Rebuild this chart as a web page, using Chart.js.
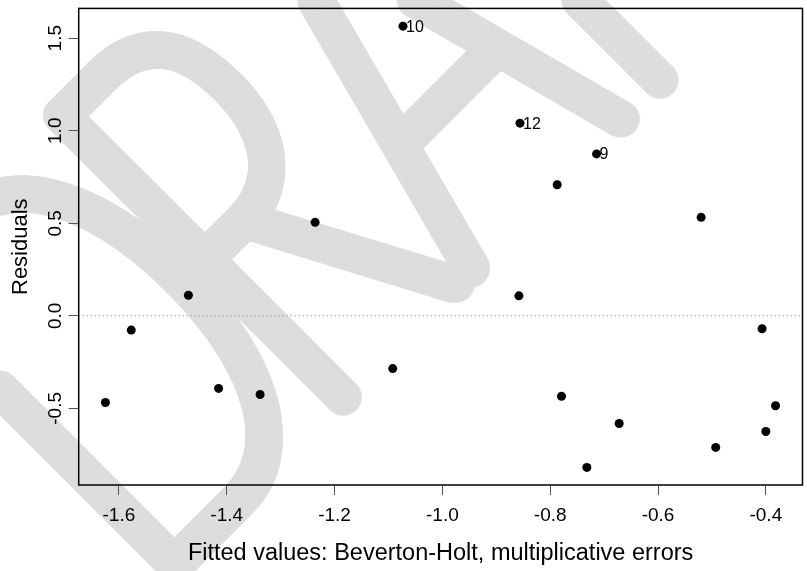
<!DOCTYPE html>
<html>
<head>
<meta charset="utf-8">
<title>Residuals vs fitted</title>
<script src="https://cdn.jsdelivr.net/npm/chart.js@4.4.1/dist/chart.umd.min.js"></script>
<style>
  html, body { margin: 0; padding: 0; background: #fff; }
  canvas { display: block; }
</style>
</head>
<body>
<canvas id="resChart" width="807" height="571"></canvas>
<script>
// values
var fittedVals = [-1.625, -1.577, -1.471, -1.415, -1.338, -1.236, -1.092, -1.073, -0.856, -0.858,
                  -0.787, -0.779, -0.732, -0.714, -0.672, -0.520, -0.493, -0.407, -0.400, -0.382];
var residVals = [-0.468, -0.077, 0.111, -0.392, -0.425, 0.505, -0.285, 1.565, 1.041, 0.108,
                 0.708, -0.435, -0.819, 0.875, -0.582, 0.532, -0.711, -0.070, -0.625, -0.486];
var pointLabels = ['', '', '', '', '', '', '', '10', '12', '',
                   '', '', '', '9', '', '', '', '', '', ''];
var xTicks = [-1.6, -1.4, -1.2, -1.0, -0.8, -0.6, -0.4];
var yTicks = [-0.5, 0.0, 0.5, 1.0, 1.5];
var xLimits = [-1.6745, -0.332];
var yLimits = [-0.914, 1.661];
var xTitle = 'Fitted values: Beverton-Holt, multiplicative errors';
var yTitle = 'Residuals';
var stampText = 'DRAFT';

var fontFamily = '"Liberation Sans", Arial, Helvetica, sans-serif';

var points = [];
for (var i = 0; i < fittedVals.length; i++) {
    points.push({ x: fittedVals[i], y: residVals[i] });
}

// grey watermark behind everything: hairline text, then thickened
// by stamping it round a small circle so the strokes get round ends
var stampPlugin = {
    id: 'stamp',
    beforeDraw: function (chart) {
        var ctx = chart.ctx;
        var off = document.createElement('canvas');
        off.width = chart.width;
        off.height = chart.height;
        var octx = off.getContext('2d');
        var size = 575;
        octx.translate(371.5, 371.5);
        octx.rotate(-Math.PI / 4);
        octx.font = '100 ' + size + 'px Lato, Roboto, "Liberation Sans", sans-serif';
        var raW = octx.measureText('RA').width;
        var dW = octx.measureText('D').width;
        var sx = 448 / raW;
        var rStart = -46 - 0.1 * size * sx;
        var dStart = rStart - dW * sx + 40;
        octx.scale(sx, 1);
        octx.fillStyle = '#dddddd';
        octx.textAlign = 'left';
        octx.textBaseline = 'alphabetic';
        octx.fillText(stampText.charAt(0), dStart / sx, 0);
        octx.fillText(stampText.slice(1), rStart / sx, 0);

        var rings = [16, 11, 6];
        for (var r = 0; r < rings.length; r++) {
            var steps = Math.ceil(2 * Math.PI * rings[r] / 1.5);
            for (var k = 0; k < steps; k++) {
                var a = 2 * Math.PI * k / steps;
                ctx.drawImage(off, rings[r] * Math.cos(a), rings[r] * Math.sin(a));
            }
        }
        ctx.drawImage(off, 0, 0);
    }
};

// box round the plot and the dotted zero line
var framePlugin = {
    id: 'frame',
    beforeDatasetsDraw: function (chart) {
        var ctx = chart.ctx;
        var a = chart.chartArea;
        var y0 = chart.scales.y.getPixelForValue(0);
        ctx.save();
        ctx.strokeStyle = '#777';
        ctx.lineWidth = 1;
        ctx.setLineDash([1, 3]);
        ctx.beginPath();
        ctx.moveTo(a.left, y0);
        ctx.lineTo(a.right, y0);
        ctx.stroke();
        ctx.setLineDash([]);
        ctx.strokeStyle = '#000';
        ctx.lineWidth = 1.5;
        ctx.strokeRect(a.left, a.top, a.right - a.left, a.bottom - a.top);
        ctx.restore();
    }
};

// point numbers next to the flagged residuals
var labelPlugin = {
    id: 'ptLabels',
    afterDatasetsDraw: function (chart) {
        var ctx = chart.ctx;
        var meta = chart.getDatasetMeta(0);
        ctx.save();
        ctx.fillStyle = '#000';
        ctx.font = '16px ' + fontFamily;
        ctx.textAlign = 'left';
        ctx.textBaseline = 'middle';
        for (var i = 0; i < meta.data.length; i++) {
            if (!pointLabels[i]) continue;
            var el = meta.data[i];
            ctx.fillText(pointLabels[i], el.x + 3, el.y + 1);
        }
        ctx.restore();
    }
};

new Chart(document.getElementById('resChart'), {
    type: 'scatter',
    data: {
        datasets: [{
            data: points,
            pointRadius: 4.5,
            pointBackgroundColor: '#000',
            pointBorderWidth: 0,
            pointHoverRadius: 4.5
        }]
    },
    options: {
        responsive: false,
        animation: false,
        events: [],
        layout: { padding: { top: 6, right: 2, left: 0, bottom: 0 } },
        plugins: {
            legend: { display: false },
            tooltip: { enabled: false }
        },
        scales: {
            x: {
                type: 'linear',
                min: xLimits[0],
                max: xLimits[1],
                afterBuildTicks: function (scale) {
                    scale.ticks = xTicks.map(function (v) { return { value: v }; });
                },
                afterFit: function (scale) { scale.height = 86; },
                grid: { display: true, drawOnChartArea: false, drawTicks: true, tickLength: 10, tickColor: '#555', tickWidth: 1 },
                border: { display: false },
                ticks: {
                    color: '#000',
                    padding: 9,
                    maxRotation: 0,
                    font: { family: fontFamily, size: 19 },
                    callback: function (v) { return Number(v).toFixed(1); }
                },
                title: {
                    display: true,
                    text: xTitle,
                    color: '#000',
                    font: { family: fontFamily, size: 23.5 },
                    padding: { top: 0, bottom: 3 }
                }
            },
            y: {
                type: 'linear',
                min: yLimits[0],
                max: yLimits[1],
                afterBuildTicks: function (scale) {
                    scale.ticks = yTicks.map(function (v) { return { value: v }; });
                },
                afterFit: function (scale) { scale.width = 78.7; },
                grid: { display: true, drawOnChartArea: false, drawTicks: true, tickLength: 10, tickColor: '#555', tickWidth: 1 },
                border: { display: false },
                ticks: {
                    color: '#000',
                    padding: -3,
                    minRotation: 90,
                    maxRotation: 90,
                    crossAlign: 'center',
                    font: { family: fontFamily, size: 19 },
                    callback: function (v) { return Number(v).toFixed(1); }
                },
                title: {
                    display: true,
                    text: yTitle,
                    color: '#000',
                    font: { family: fontFamily, size: 22 },
                    padding: { top: 8, bottom: 0 }
                }
            }
        }
    },
    plugins: [stampPlugin, framePlugin, labelPlugin]
});
</script>
</body>
</html>
